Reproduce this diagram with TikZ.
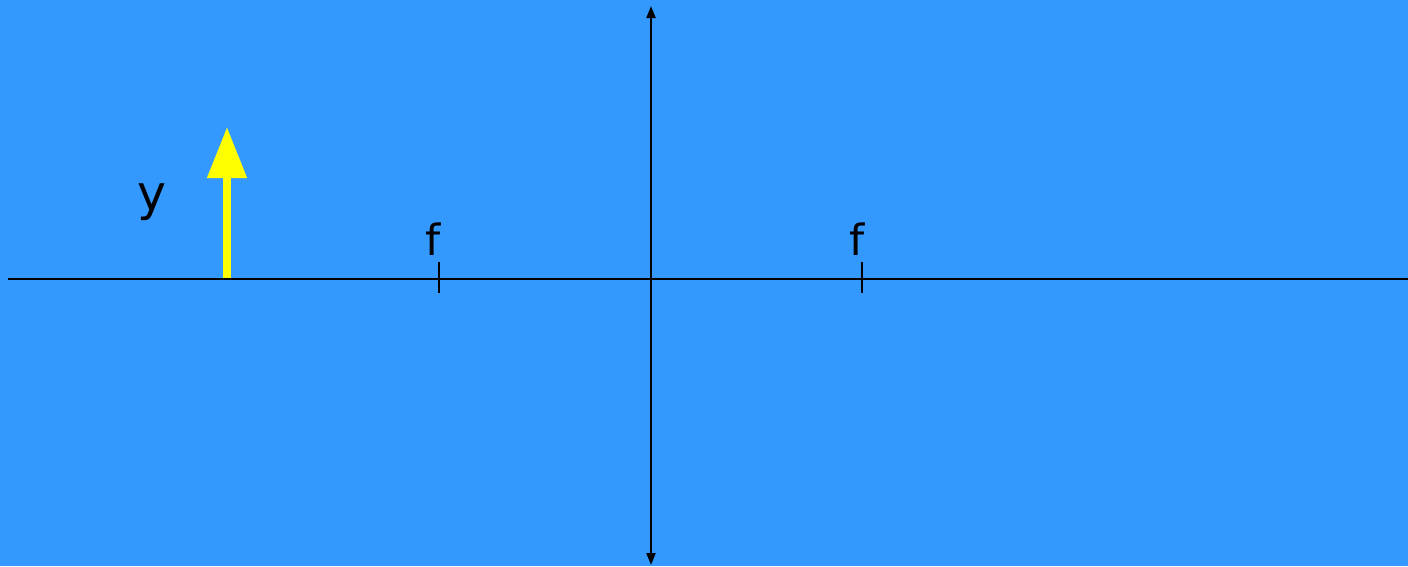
\documentclass[tikz,border=0pt]{standalone}
\usepackage{fontspec}
\setmainfont{DejaVu Sans}
\usetikzlibrary{arrows.meta}
\definecolor{bgblue}{HTML}{3399FF}
\definecolor{objyellow}{HTML}{FFFF00}
\tikzset{
  axisline/.style={draw=black, line width=2pt},
  lensaxis/.style={axisline, {Triangle[length=12pt,width=9pt]}-{Triangle[length=12pt,width=9pt]}},
  focustick/.style={draw=black, line width=2pt},
  objarrow/.style={draw=objyellow, line width=8pt, -{Triangle[length=51pt,width=38pt]}},
  flabel/.style={anchor=base, inner sep=0pt, font=\fontsize{43}{50}\selectfont},
  ylabel/.style={anchor=base, inner sep=0pt, font=\fontsize{49}{56}\selectfont}
}
\begin{document}
\begin{tikzpicture}[x=1pt,y=-1pt]
  \fill[bgblue] (0,0) rectangle (1408,566);
  \useasboundingbox (0,0) rectangle (1408,566);
  % optical axis
  \coordinate (axL) at (8,279);
  \coordinate (axR) at (1408,279);
  \draw[axisline] (axL) -- (axR);
  % lens
  \coordinate (lensT) at (651,6);
  \coordinate (lensB) at (651,565);
  \draw[lensaxis] (lensB) -- (lensT);
  % focal ticks
  \coordinate (f1t) at (439,262);
  \coordinate (f1b) at (439,293);
  \coordinate (f2t) at (862,262);
  \coordinate (f2b) at (862,293);
  \draw[focustick] (f1t) -- (f1b);
  \draw[focustick] (f2t) -- (f2b);
  \node[flabel] (fL) at (433,255) {f};
  \node[flabel] (fR) at (857,255) {f};
  % object
  \coordinate (objB) at (227,278);
  \coordinate (objT) at (227,127);
  \draw[objarrow] (objB) -- (objT);
  \node[ylabel] (yL) at (152,210) {y};
\end{tikzpicture}
\end{document}
